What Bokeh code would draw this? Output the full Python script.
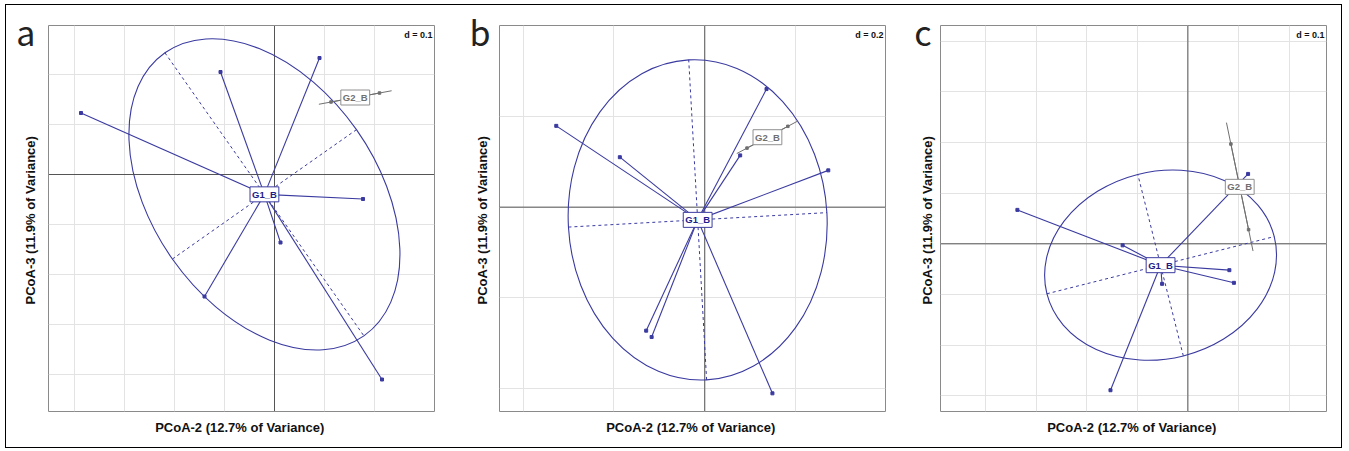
import numpy as np
from bokeh.plotting import figure
from bokeh.models import Range1d, FixedTicker, Span, Label
from bokeh.layouts import row
from bokeh.embed import file_html
from bokeh.resources import INLINE

# ---------------- data ----------------
x_title = "PCoA-2  (12.7% of Variance)"
y_title = "PCoA-3  (11.9% of Variance)"
panel_letters = ["a", "b", "c"]
d_values = [0.1, 0.2, 0.1]
group_names = ["G1_B", "G2_B"]
cellipse = 1.5

# panel a
a_xrange = [-0.452, 0.320]
a_yrange = [-0.474, 0.298]
a_grid_x = [-0.4, -0.3, -0.2, -0.1, 0.0, 0.1, 0.2]
a_grid_y = [-0.4, -0.3, -0.2, -0.1, 0.0, 0.1, 0.2]
a_g1_x = [-0.387, -0.108, 0.090, 0.177, 0.012, -0.140, 0.215]
a_g1_y = [0.123, 0.205, 0.233, -0.049, -0.136, -0.244, -0.410]
a_g2_x = [0.113, 0.210]
a_g2_y = [0.145, 0.163]
a_ellipse = [-54.9, 0.346, 0.225]   # angle (deg), semi-axis along angle, semi-axis across

# panel b
b_xrange = [-0.452, 0.398]
b_yrange = [-0.450, 0.400]
b_grid_x = [-0.4, -0.2, 0.0, 0.2]
b_grid_y = [-0.4, -0.2, 0.0, 0.2]
b_g1_x = [-0.327, -0.187, 0.136, 0.078, 0.272, -0.129, -0.117, 0.149]
b_g1_y = [0.179, 0.110, 0.260, 0.114, 0.081, -0.272, -0.286, -0.410]
b_g2_x = [0.093, 0.183]
b_g2_y = [0.130, 0.178]
b_ellipse = [3.2, 0.285, 0.353]

# panel c
c_xrange = [-0.489, 0.274]
c_yrange = [-0.331, 0.431]
c_grid_x = [-0.4, -0.3, -0.2, -0.1, 0.0, 0.1, 0.2]
c_grid_y = [-0.3, -0.2, -0.1, 0.0, 0.1, 0.2, 0.3, 0.4]
c_g1_x = [-0.337, -0.129, 0.119, 0.082, 0.091, -0.051, -0.153]
c_g1_y = [0.067, -0.003, 0.138, -0.052, -0.077, -0.079, -0.289]
c_g2_x = [0.085, 0.120]
c_g2_y = [0.197, 0.028]
c_ellipse = [14.1, 0.2317, 0.1847]

BLUE = "#3a3aa0"
GREY = "#707070"
FRAME = 386
HEIGHT = 442
TOP = 20


def make_panel(letter, d, xr, yr, gx, gy, g1x, g1y, g2x, g2y, ell,
               width, left, letter_gap, ytitle_standoff):
    p = figure(width=width, height=HEIGHT, x_range=Range1d(*xr), y_range=Range1d(*yr),
               output_backend="svg", toolbar_location=None,
               min_border_left=left, min_border_right=width - left - FRAME,
               min_border_top=TOP, min_border_bottom=HEIGHT - TOP - FRAME)
    p.background_fill_color = "white"
    p.border_fill_color = "white"
    p.outline_line_color = "#8a8a8a"
    p.outline_line_width = 1

    upx = (xr[1] - xr[0]) / FRAME   # data units per pixel
    upy = (yr[1] - yr[0]) / FRAME

    for ax in (p.xaxis[0], p.yaxis[0]):
        ax.axis_line_color = None
        ax.major_tick_line_color = None
        ax.minor_tick_line_color = None
        ax.axis_label_text_font = "Liberation Sans"
        ax.axis_label_text_font_style = "bold"
        ax.axis_label_text_font_size = "13px"
        ax.axis_label_text_color = "#111111"
    p.xaxis.ticker = FixedTicker(ticks=[])
    p.xaxis.major_label_text_font_size = "0px"
    p.xaxis.axis_label = x_title
    p.yaxis.axis_label = y_title
    p.xaxis.axis_label_standoff = 8

    # the panel letter is carried by the left axis as its single tick label
    letter_tick = round(yr[1] - 3 * upy, 3)
    p.yaxis.ticker = FixedTicker(ticks=[letter_tick])
    p.yaxis.major_label_overrides = {letter_tick: letter}
    p.yaxis.major_label_orientation = "horizontal"
    p.yaxis.major_label_standoff = letter_gap
    p.yaxis.major_label_text_font = "Noto Sans CJK SC"
    p.yaxis.major_label_text_font_size = "34px"
    p.yaxis.major_label_text_color = "#222222"
    p.yaxis.axis_label_standoff = ytitle_standoff

    p.xgrid.ticker = FixedTicker(ticks=gx)
    p.ygrid.ticker = FixedTicker(ticks=gy)
    p.xgrid.grid_line_color = "#e3e3e3"
    p.ygrid.grid_line_color = "#e3e3e3"

    p.add_layout(Span(location=0, dimension="height", line_color="#555555",
                      line_width=1, level="underlay"))
    p.add_layout(Span(location=0, dimension="width", line_color="#555555",
                      line_width=1, level="underlay"))

    # group 1: ellipse, ellipse axes, star
    g1x = np.array(g1x); g1y = np.array(g1y)
    cx, cy = g1x.mean(), g1y.mean()
    ang = np.deg2rad(ell[0])
    p.ellipse(x=[cx], y=[cy], width=[2 * ell[1]], height=[2 * ell[2]], angle=[ang],
              fill_color=None, line_color=BLUE, line_width=1.1)
    ux, uy = np.cos(ang), np.sin(ang)
    vx, vy = -np.sin(ang), np.cos(ang)
    p.segment(x0=[cx - ell[1] * ux, cx - ell[2] * vx], y0=[cy - ell[1] * uy, cy - ell[2] * vy],
              x1=[cx + ell[1] * ux, cx + ell[2] * vx], y1=[cy + ell[1] * uy, cy + ell[2] * vy],
              line_color=BLUE, line_width=1, line_dash="3 3")
    p.segment(x0=[cx] * len(g1x), y0=[cy] * len(g1y), x1=g1x, y1=g1y,
              line_color=BLUE, line_width=1.1)
    p.scatter(g1x, g1y, size=3, marker="square", color=BLUE)

    # group 2: two samples -> degenerate ellipse (segment) and star
    g2x = np.array(g2x); g2y = np.array(g2y)
    c2x, c2y = g2x.mean(), g2y.mean()
    ex = c2x + cellipse * (g2x - c2x)
    ey = c2y + cellipse * (g2y - c2y)
    p.segment(x0=[ex[0]], y0=[ey[0]], x1=[ex[1]], y1=[ey[1]], line_color=GREY, line_width=1)
    p.segment(x0=[c2x] * 2, y0=[c2y] * 2, x1=g2x, y1=g2y, line_color=GREY, line_width=1)
    p.scatter(g2x, g2y, size=2.5, marker="square", color=GREY)

    p.add_layout(Label(x=c2x, y=c2y, text=group_names[1], text_align="center",
                       text_baseline="middle", text_font="Liberation Sans",
                       text_font_style="bold", text_font_size="9.5px", text_color=GREY,
                       background_fill_color="white", border_line_color="#909090",
                       padding=2))
    p.add_layout(Label(x=cx, y=cy, text=group_names[0], text_align="center",
                       text_baseline="middle", text_font="Liberation Sans",
                       text_font_style="bold", text_font_size="9.5px", text_color="#1c1c8c",
                       background_fill_color="white", border_line_color=BLUE,
                       padding=2))

    p.add_layout(Label(x=xr[1] - 2 * upx, y=yr[1] - 4 * upy, text="d = %g" % d,
                       text_align="right", text_baseline="top", text_font="Liberation Sans",
                       text_font_style="bold", text_font_size="9px", text_color="#111111",
                       background_fill_color="white"))
    return p


pa = make_panel(panel_letters[0], d_values[0], a_xrange, a_yrange, a_grid_x, a_grid_y,
                a_g1_x, a_g1_y, a_g2_x, a_g2_y, a_ellipse, 443, 42, 7, -25)
pb = make_panel(panel_letters[1], d_values[1], b_xrange, b_yrange, b_grid_x, b_grid_y,
                b_g1_x, b_g1_y, b_g2_x, b_g2_y, b_ellipse, 450, 50, 3, -24)
pc = make_panel(panel_letters[2], d_values[2], c_xrange, c_yrange, c_grid_x, c_grid_y,
                c_g1_x, c_g1_y, c_g2_x, c_g2_y, c_ellipse, 442, 41, 3, -24)

layout = row(pa, pb, pc, styles={"border": "1.5px solid black", "background": "white",
                                 "margin-left": "5px", "margin-top": "4px"})

open("out.html", "w").write(file_html(layout, INLINE))
